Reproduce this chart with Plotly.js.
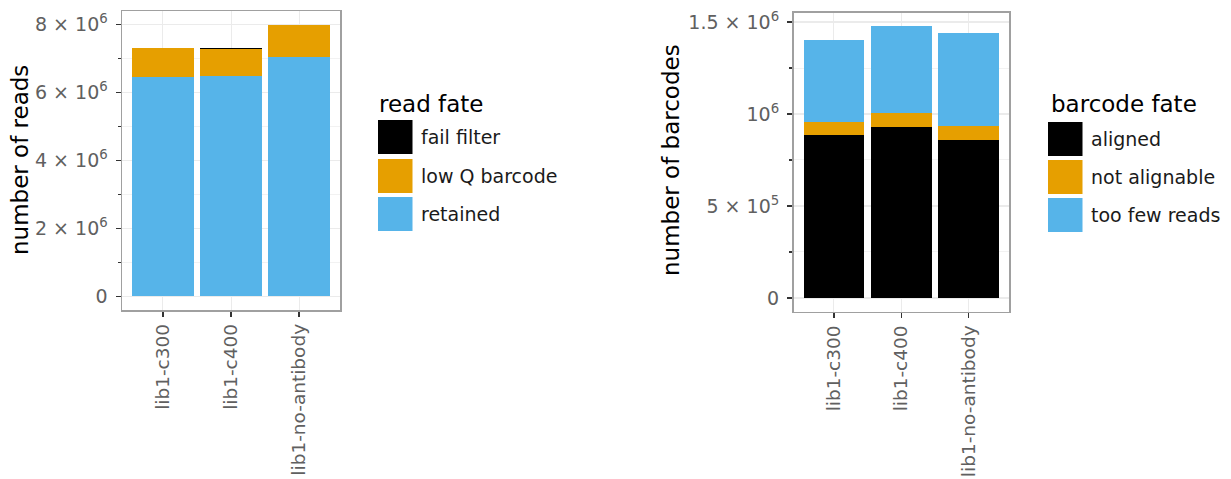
<!DOCTYPE html>
<html>
<head>
<meta charset="utf-8">
<script src="https://cdn.plot.ly/plotly-3.0.1.min.js"></script>
<style>html,body{margin:0;padding:0;background:#fff;}#chart{width:1231px;height:479px;}</style>
</head>
<body>
<div id="chart"></div>
<script>
// ---- data ----
const libraries = ["lib1-c300", "lib1-c400", "lib1-no-antibody"];

const readFates = ["fail filter", "low Q barcode", "retained"];
const readFailFilter = [0, 0.03e6, 0];
const readLowQ = [0.84e6, 0.80e6, 0.96e6];
const readRetained = [6.46e6, 6.49e6, 7.04e6];

const barcodeFates = ["aligned", "not alignable", "too few reads"];
const bcAligned = [0.888e6, 0.930e6, 0.859e6];
const bcNotAlignable = [0.070e6, 0.074e6, 0.076e6];
const bcTooFew = [0.442e6, 0.474e6, 0.505e6];

const readTickVals = [0, 2e6, 4e6, 6e6, 8e6];
const readTickText = ["0", "2 × 10<sup>6</sup>", "4 × 10<sup>6</sup>", "6 × 10<sup>6</sup>", "8 × 10<sup>6</sup>"];
const bcTickVals = [0, 5e5, 1e6, 1.5e6];
const bcTickText = ["0", "5 × 10<sup>5</sup>", "10<sup>6</sup>", "1.5 × 10<sup>6</sup>"];

const colors = {black: "#000000", orange: "#E69F00", blue: "#56B4E9"};

// ---- geometry helpers (pixels -> paper) ----
const W = 1231, H = 479;
const px = x => x / W;
const py = y => 1 - y / H;
const FONT = "DejaVu Sans";

function bar(name, y, color, xa, ya) {
  return {type: "bar", name: name, x: libraries, y: y, xaxis: xa, yaxis: ya,
          marker: {color: color, line: {width: 0}}, showlegend: false, hoverinfo: "x+y+name"};
}

const traces = [
  bar(readFates[2], readRetained, colors.blue, "x", "y"),
  bar(readFates[1], readLowQ, colors.orange, "x", "y"),
  bar(readFates[0], readFailFilter, colors.black, "x", "y"),
  bar(barcodeFates[0], bcAligned, colors.black, "x2", "y2"),
  bar(barcodeFates[1], bcNotAlignable, colors.orange, "x2", "y2"),
  bar(barcodeFates[2], bcTooFew, colors.blue, "x2", "y2")
];

const yTickFont = {family: FONT, size: 19, color: "#606060"};
const xTickFont = {family: FONT, size: 18.5, color: "#606060"};
function xAxis(domain, anchor) {
  return {domain: domain, anchor: anchor, type: "category", range: [-0.6, 2.6],
          tickangle: -90, tickfont: xTickFont, ticks: "outside", ticklen: 5, tickwidth: 1.5, tickcolor: "#333",
          showgrid: true, gridcolor: "#ebebeb", gridwidth: 1, zeroline: false,
          showline: true, linecolor: "#a0a0a0", linewidth: 1.5, mirror: true, fixedrange: true};
}
function yAxis(domain, anchor, range, tv, tt, minorDtick) {
  return {domain: domain, anchor: anchor, range: range, tickvals: tv, ticktext: tt,
          tickfont: yTickFont, ticks: "outside", ticklen: 5, tickwidth: 1.5, tickcolor: "#333",
          ticklabelstandoff: 4,
          showgrid: true, gridcolor: "#ebebeb", gridwidth: 1.2, zeroline: false,
          showline: true, linecolor: "#a0a0a0", linewidth: 1.5, mirror: true,
          minor: {dtick: minorDtick, tick0: 0, ticks: "outside", ticklen: 3, tickwidth: 1.5, tickcolor: "#333",
                  showgrid: true, gridcolor: "#f2f2f2", gridwidth: 1},
          fixedrange: true};
}

const shapes = [];
const annotations = [];

function legend(title, names, cols, keyX, titleX, keyTops) {
  annotations.push({xref: "paper", yref: "paper", x: px(titleX), y: py(104), xanchor: "left", yanchor: "middle",
                    text: title, showarrow: false, font: {family: FONT, size: 23, color: "#000"}});
  names.forEach((n, i) => {
    const t = keyTops[i];
    shapes.push({type: "rect", xref: "paper", yref: "paper", x0: px(keyX), x1: px(keyX + 34.5),
                 y0: py(t + 34), y1: py(t), fillcolor: cols[i], line: {width: 0}});
    annotations.push({xref: "paper", yref: "paper", x: px(keyX + 40.5), y: py(t + 17), xanchor: "left", yanchor: "middle",
                      text: n, showarrow: false, font: {family: FONT, size: 19, color: "#1a1a1a"}});
  });
}
legend("read fate", readFates, [colors.black, colors.orange, colors.blue], 378, 377, [120, 159, 197]);
legend("barcode fate", barcodeFates, [colors.black, colors.orange, colors.blue], 1048, 1049, [122, 160, 198]);

annotations.push({xref: "paper", yref: "paper", x: px(20), y: py(160), xanchor: "center", yanchor: "middle",
                  text: "number of reads", textangle: -90, showarrow: false, font: {family: FONT, size: 23, color: "#000"}});
annotations.push({xref: "paper", yref: "paper", x: px(671), y: py(160), xanchor: "center", yanchor: "middle",
                  text: "number of barcodes", textangle: -90, showarrow: false, font: {family: FONT, size: 23, color: "#000"}});

const layout = {
  width: W, height: H, margin: {l: 0, r: 0, t: 0, b: 0},
  paper_bgcolor: "#fff", plot_bgcolor: "#fff",
  barmode: "stack", bargap: 0.1,
  font: {family: FONT},
  xaxis: xAxis([px(122), px(340)], "y"),
  yaxis: yAxis([py(310), py(11)], "x", [-0.4e6, 8.4e6], readTickVals, readTickText, 1e6),
  xaxis2: xAxis([px(793.5), px(1009)], "y2"),
  yaxis2: yAxis([py(311.5), py(12.5)], "x2", [-0.0739e6, 1.5519e6], bcTickVals, bcTickText, 2.5e5),
  shapes: shapes,
  annotations: annotations,
  showlegend: false
};

Plotly.newPlot("chart", traces, layout, {displayModeBar: false, staticPlot: true});
</script>
</body>
</html>
